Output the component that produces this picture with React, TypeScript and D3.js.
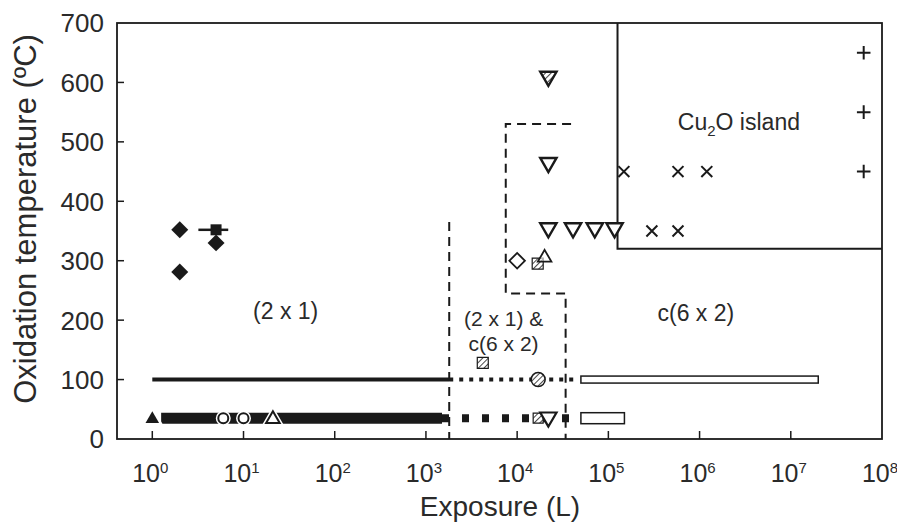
import React from 'react';
import * as d3 from 'd3';

const W = 897;
const H = 527;

// axis ticks
const xTickValues = [1e0, 1e1, 1e2, 1e3, 1e4, 1e5, 1e6, 1e7, 1e8];
const xTickExponents = ['0', '1', '2', '3', '4', '5', '6', '7', '8'];
const yTickValues = [0, 100, 200, 300, 400, 500, 600, 700];

// markers (exposure in L, temperature in ºC)
const filledDiamondX = [2, 2, 5];
const filledDiamondY = [352, 281, 330];
const squareX = [5];
const squareY = [352];
const squareXLow = [3.2];
const squareXHigh = [6.8];
const openTriDownX = [2.2e4, 2.2e4, 4.1e4, 7.1e4, 1.17e5];
const openTriDownY = [465, 355, 355, 355, 355];
const hatchTriDownX = [2.2e4];
const hatchTriDownY = [610];
const openDiamondX = [1.0e4];
const openDiamondY = [300];
const hatchSquareX = [4.2e3, 1.68e4];
const hatchSquareY = [128, 295];
const openTriUpX = [2.0e4];
const openTriUpY = [305];
const crossX = [1.48e5, 5.8e5, 1.2e6, 3.0e5, 5.8e5];
const crossY = [450, 450, 450, 350, 350];
const plusX = [6.3e7, 6.3e7, 6.3e7];
const plusY = [650, 550, 450];

// markers lying on the exposure bars
const barFilledTriUpX = [1];
const barFilledTriUpY = [35];
const barOpenCircleX = [6, 10];
const barOpenCircleY = [35, 35];
const barOpenTriUpX = [21];
const barOpenTriUpY = [35];
const barHatchSquareX = [1.7e4];
const barHatchSquareY = [35];
const barOpenTriDownX = [2.2e4];
const barOpenTriDownY = [35];
const barHatchCircleX = [1.7e4];
const barHatchCircleY = [100];

// exposure bars: rows at two temperatures
const barTemps = [100, 35];
const solidStart = [1, 1.25];
const solidEnd = [1.8e3, 1.5e3];
const brokenStart = [1.8e3, 1.5e3];
const brokenEnd = [4.3e4, 4.3e4];
const hollowStart = [5.0e4, 5.0e4];
const hollowEnd = [2.0e7, 1.5e5];

// phase boundaries
const cu2oBoundX = [1.26e5, 1.26e5, 1e8];
const cu2oBoundY = [700, 320, 320];
const mixLeftX = [1.8e3, 1.8e3];
const mixLeftY = [365, 0];
const mixRightX = [3.9e4, 7.5e3, 7.5e3, 3.4e4, 3.4e4];
const mixRightY = [530, 530, 245, 245, 0];

const FONT = 'Liberation Sans, Arial, Helvetica, sans-serif';
const INK = '#1a1a1a';
const TXT = '#2a2a2a';

export default function App() {
  const x = d3.scaleLog().domain([Math.pow(10, -0.387), 1e8]).range([117, 882]);
  const y = d3.scaleLinear().domain([0, 700]).range([439, 23]);
  const line = d3
    .line<[number, number]>()
    .x((d) => x(d[0]))
    .y((d) => y(d[1]));
  const zip = (a: number[], b: number[]) => a.map((v, i) => [v, b[i]] as [number, number]);

  const triUp = d3.symbol().type(d3.symbolTriangle).size(115)() as string;
  const triUpSmall = d3.symbol().type(d3.symbolTriangle).size(80)() as string;
  const square = (s: number) => d3.symbol().type(d3.symbolSquare).size(s * s)() as string;
  const circle = (dd: number) => d3.symbol().type(d3.symbolCircle).size(Math.PI * (dd / 2) * (dd / 2))() as string;
  const times = d3.symbol().type(d3.symbolTimes).size(80)() as string;
  const plus = d3.symbol().type(d3.symbolPlus).size(62)() as string;

  const tr = (xv: number, yv: number, rot = 0, dy = 0) =>
    `translate(${x(xv)},${y(yv) + dy})${rot ? ` rotate(${rot})` : ''}`;

  const halo = { stroke: '#fff', strokeWidth: 5, fill: '#fff' };

  return (
    <svg width={W} height={H} style={{ position: 'absolute', left: 0, top: 0, background: '#fff' }}>
      <defs>
        <pattern id="hatch" width="4" height="4" patternUnits="userSpaceOnUse" patternTransform="rotate(45)">
          <rect width="4" height="4" fill="#fff" />
          <line x1="0" y1="0" x2="0" y2="4" stroke="#333" strokeWidth="1.8" />
        </pattern>
      </defs>
      <rect width={W} height={H} fill="#fff" />

      {/* frame */}
      <rect x={117} y={23} width={882 - 117} height={439 - 23} fill="none" stroke={INK} strokeWidth={1.8} />

      {/* y ticks */}
      {yTickValues.map((v) => (
        <g key={'yt' + v}>
          {v > 0 && v < 700 && <line x1={117} x2={124} y1={y(v)} y2={y(v)} stroke={INK} strokeWidth={1.5} />}
          <text x={104} y={y(v)} dy="0.36em" textAnchor="end" fontFamily={FONT} fontSize={26} fill={TXT}>
            {v}
          </text>
        </g>
      ))}

      {/* x ticks */}
      {xTickValues.map((v, i) => (
        <g key={'xt' + v}>
          {v < 1e8 && <line x1={x(v)} x2={x(v)} y1={439} y2={431} stroke={INK} strokeWidth={1.5} />}
          <text x={x(v) - 2} y={482} textAnchor="middle" fontFamily={FONT} fill={TXT}>
            <tspan fontSize={25}>10</tspan>
            <tspan fontSize={15} dy={-9}>
              {xTickExponents[i]}
            </tspan>
          </text>
        </g>
      ))}

      {/* axis titles */}
      <text x={500} y={516} textAnchor="middle" fontFamily={FONT} fontSize={28} fill={TXT}>
        Exposure (L)
      </text>
      <text
        transform="translate(36,219) rotate(-90)"
        textAnchor="middle"
        fontFamily={FONT}
        fontSize={31}
        fill={TXT}
      >
        Oxidation temperature (ºC)
      </text>

      {/* phase boundaries */}
      <path d={line(zip(cu2oBoundX, cu2oBoundY)) as string} fill="none" stroke={INK} strokeWidth={2} />
      <path d={line(zip(mixLeftX, mixLeftY)) as string} fill="none" stroke={INK} strokeWidth={2} strokeDasharray="9,6" />
      <path d={line(zip(mixRightX, mixRightY)) as string} fill="none" stroke={INK} strokeWidth={2} strokeDasharray="9,6" />

      {/* exposure bars */}
      {barTemps.map((t, i) => {
        const thick = i === 0 ? 4 : 11;
        const hh = i === 0 ? 7 : 11;
        return (
          <g key={'bar' + i}>
            <line x1={x(solidStart[i])} x2={x(solidEnd[i])} y1={y(t)} y2={y(t)} stroke={INK} strokeWidth={thick} />
            <line
              x1={x(brokenStart[i])}
              x2={x(brokenEnd[i])}
              y1={y(t)}
              y2={y(t)}
              stroke={INK}
              strokeWidth={i === 0 ? 4 : 8}
              strokeDasharray={i === 0 ? '4,6' : '7,13'}
            />
            <rect
              x={x(hollowStart[i])}
              y={y(t) - hh / 2}
              width={x(hollowEnd[i]) - x(hollowStart[i])}
              height={hh}
              fill="#fff"
              stroke={INK}
              strokeWidth={1.5}
            />
          </g>
        );
      })}

      {/* markers on the bars */}
      {zip(barFilledTriUpX, barFilledTriUpY).map(([a, b], i) => (
        <g key={'bft' + i} transform={tr(a, b, 0, 1)}>
          <path d={triUpSmall} {...halo} />
          <path d={triUpSmall} fill={INK} />
        </g>
      ))}
      {zip(barOpenCircleX, barOpenCircleY).map(([a, b], i) => (
        <g key={'boc' + i} transform={tr(a, b)}>
          <path d={circle(10)} {...halo} />
          <path d={circle(10)} fill="#fff" stroke={INK} strokeWidth={2} />
        </g>
      ))}
      {zip(barOpenTriUpX, barOpenTriUpY).map(([a, b], i) => (
        <g key={'bot' + i} transform={tr(a, b, 0, 1)}>
          <path d={triUpSmall} {...halo} />
          <path d={triUpSmall} fill="#fff" stroke={INK} strokeWidth={2} />
        </g>
      ))}
      {zip(barHatchSquareX, barHatchSquareY).map(([a, b], i) => (
        <g key={'bhs' + i} transform={tr(a, b)}>
          <path d={square(10)} fill="url(#hatch)" stroke={INK} strokeWidth={1.2} />
        </g>
      ))}
      {zip(barOpenTriDownX, barOpenTriDownY).map(([a, b], i) => (
        <g key={'btd' + i} transform={tr(a, b, 180, -1)}>
          <path d={triUp} fill="#fff" stroke={INK} strokeWidth={2.2} />
        </g>
      ))}
      {zip(barHatchCircleX, barHatchCircleY).map(([a, b], i) => (
        <g key={'bhc' + i} transform={tr(a, b)}>
          <path d={circle(14)} fill="url(#hatch)" stroke={INK} strokeWidth={1.5} />
        </g>
      ))}

      {/* free markers */}
      {zip(filledDiamondX, filledDiamondY).map(([a, b], i) => (
        <path key={'fd' + i} transform={tr(a, b, 45)} d={square(12)} fill={INK} />
      ))}
      {squareX.map((a, i) => (
        <g key={'sq' + i}>
          <line x1={x(squareXLow[i])} x2={x(squareXHigh[i])} y1={y(squareY[i])} y2={y(squareY[i])} stroke={INK} strokeWidth={2.5} />
          <path transform={tr(a, squareY[i])} d={square(11)} fill={INK} />
        </g>
      ))}
      {zip(openTriDownX, openTriDownY).map(([a, b], i) => (
        <path key={'otd' + i} transform={tr(a, b, 180)} d={triUp} fill="#fff" stroke={INK} strokeWidth={2.4} />
      ))}
      {zip(hatchTriDownX, hatchTriDownY).map(([a, b], i) => (
        <path key={'htd' + i} transform={tr(a, b, 180)} d={triUp} fill="url(#hatch)" stroke={INK} strokeWidth={2.4} />
      ))}
      {zip(openDiamondX, openDiamondY).map(([a, b], i) => (
        <path key={'od' + i} transform={tr(a, b, 45)} d={square(11)} fill="#fff" stroke={INK} strokeWidth={1.8} />
      ))}
      {zip(hatchSquareX, hatchSquareY).map(([a, b], i) => (
        <path key={'hs' + i} transform={tr(a, b)} d={square(11)} fill="url(#hatch)" stroke={INK} strokeWidth={1.2} />
      ))}
      {zip(openTriUpX, openTriUpY).map(([a, b], i) => (
        <path key={'otu' + i} transform={tr(a, b)} d={triUpSmall} fill="#fff" fillOpacity={0.6} stroke={INK} strokeWidth={1.8} />
      ))}
      {zip(crossX, crossY).map(([a, b], i) => (
        <path key={'cx' + i} transform={tr(a, b)} d={times} fill="none" stroke={INK} strokeWidth={2} />
      ))}
      {zip(plusX, plusY).map(([a, b], i) => (
        <path key={'pl' + i} transform={tr(a, b)} d={plus} fill="none" stroke={INK} strokeWidth={2} />
      ))}

      {/* phase labels */}
      <g fontFamily={FONT} fontSize={23} fill={TXT} textAnchor="middle">
        <text x={x(29)} y={y(216)} dy="0.35em">(2 x 1)</text>
        <text x={x(7.1e3)} y={y(203)} dy="0.35em" fontSize={21}>(2 x 1) &amp;</text>
        <text x={x(7.1e3)} y={y(160)} dy="0.35em" fontSize={21}>c(6 x 2)</text>
        <text x={x(9.1e5)} y={y(212)} dy="0.35em">c(6 x 2)</text>
        <text x={x(2.7e6)} y={y(533)} dy="0.35em">
          Cu
          <tspan fontSize={15} dy={6}>2</tspan>
          <tspan dy={-6}>O island</tspan>
        </text>
      </g>
    </svg>
  );
}
